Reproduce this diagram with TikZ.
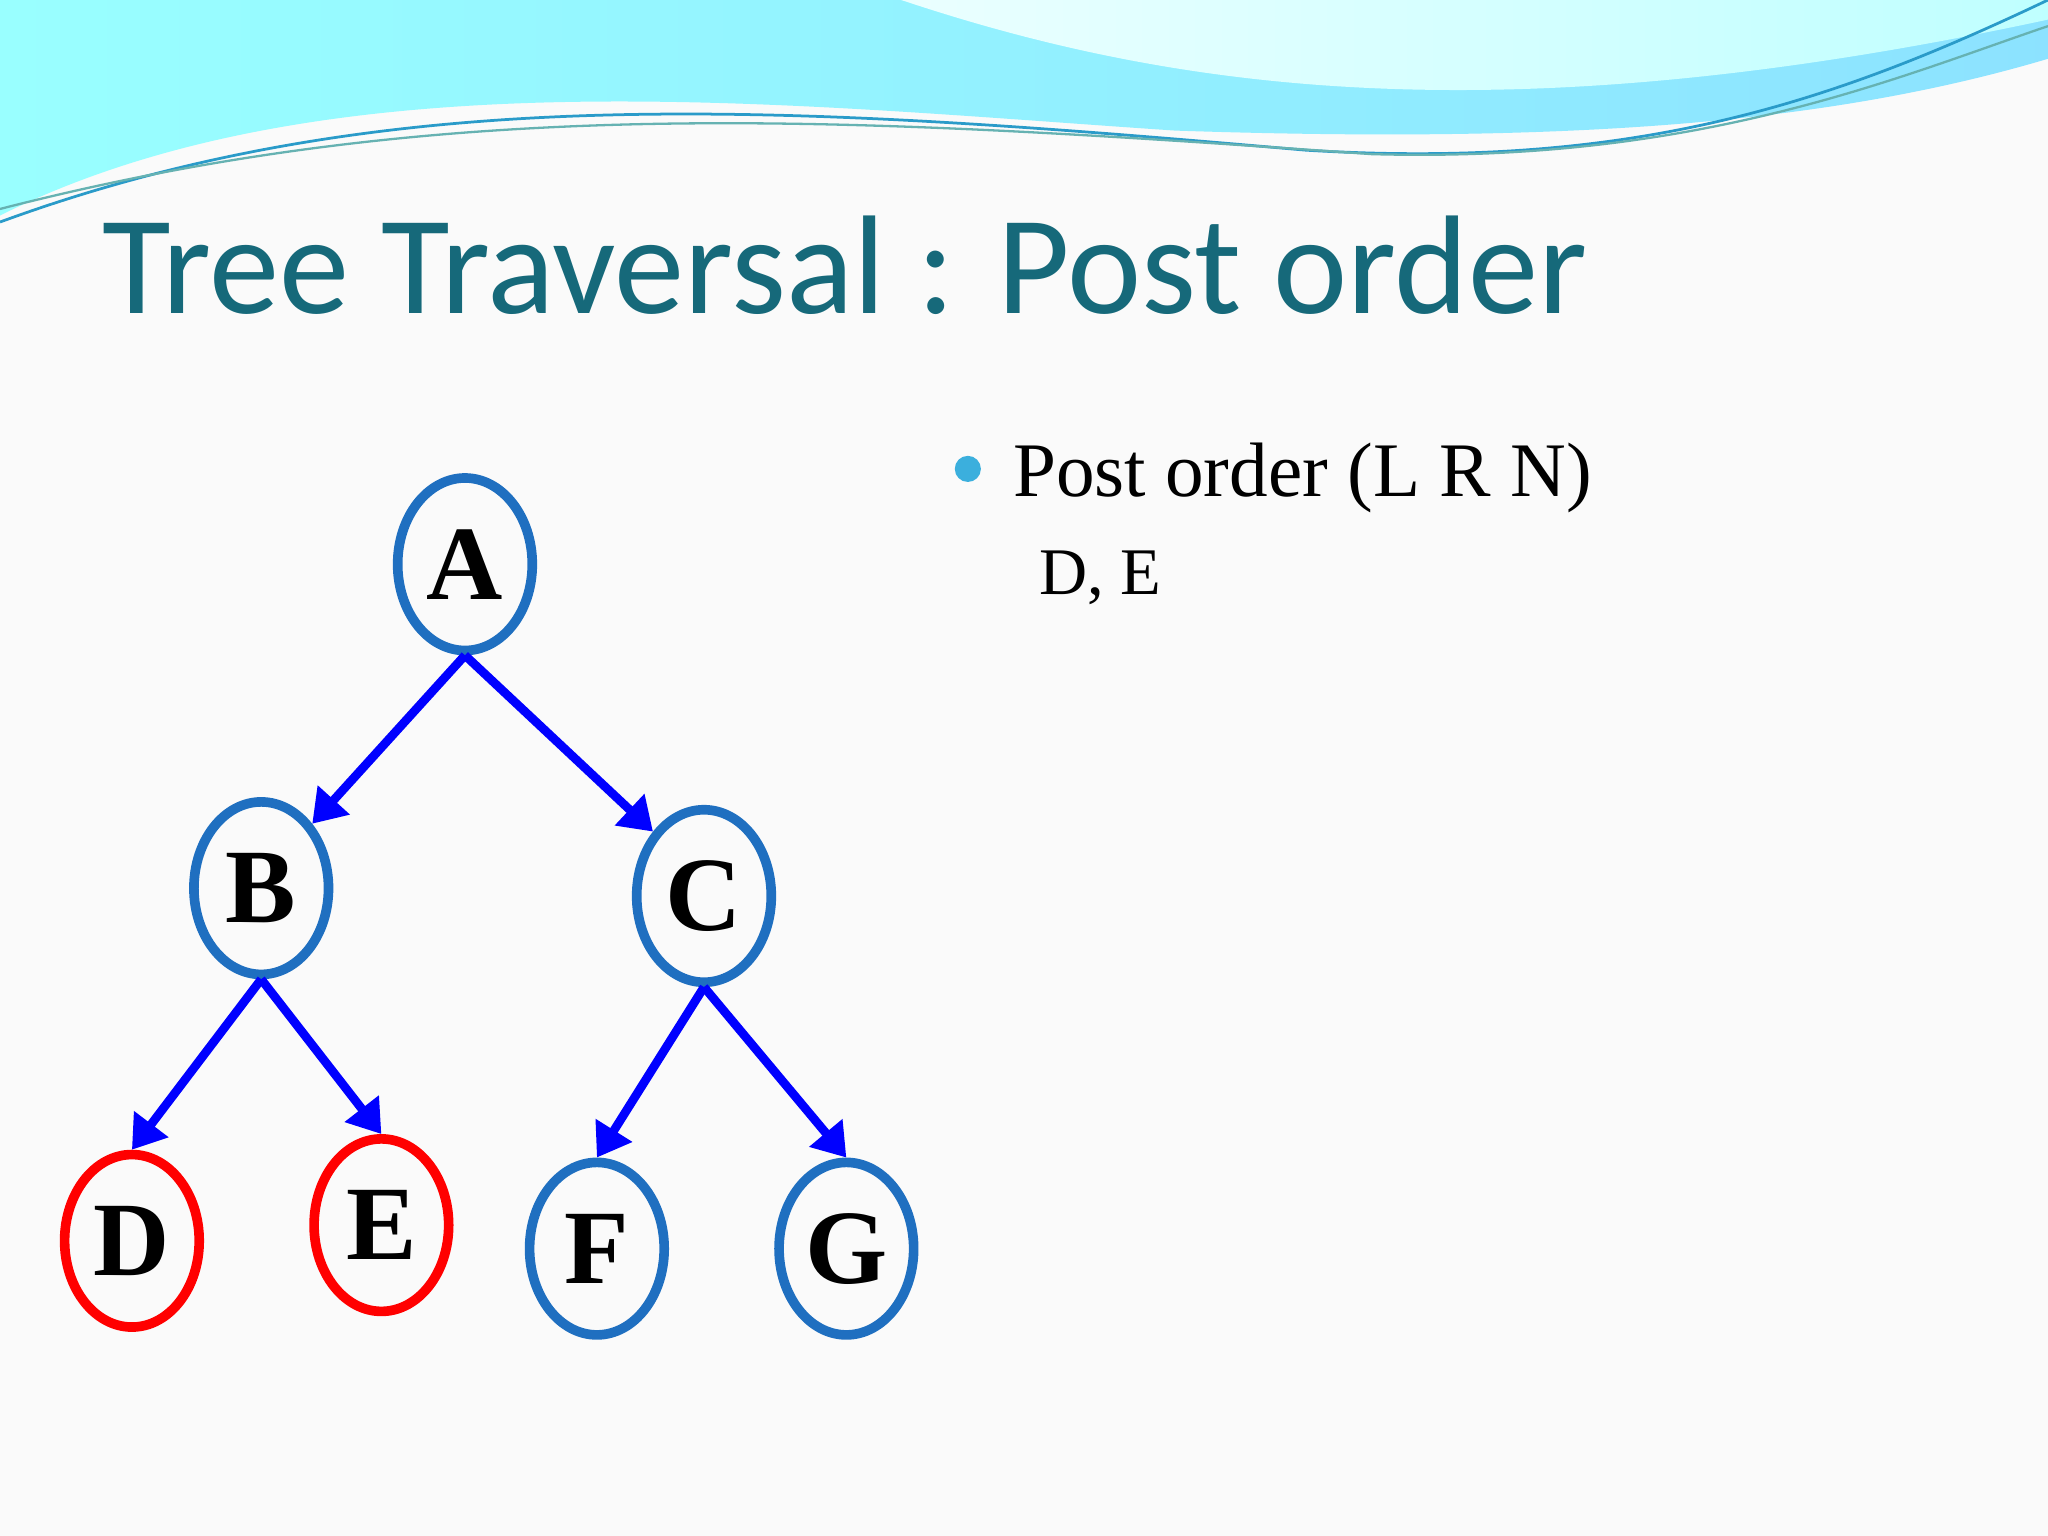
\documentclass[tikz,border=0pt]{standalone}
\usepackage{fontspec}
\setmainfont{Liberation Serif}
\newfontfamily\titlefont{Carlito}
\usetikzlibrary{shapes.geometric,arrows.meta}
\begin{document}
\begin{tikzpicture}[x=0.01cm,y=-0.01cm,
  tn/.style={draw=#1,line width=2.1pt,ellipse,minimum width=1.03cm,minimum height=1.32cm,inner sep=0pt,font=\fontsize{23}{23}\selectfont\bfseries},
  edge/.style={draw=blue,line width=1.9pt,-{Triangle[length=7pt,width=9pt]}}]
\definecolor{nb}{HTML}{1F6FC0}
\definecolor{tt}{HTML}{16697A}
\fill[white!96!gray] (0,0) rectangle (1568,1176);
\useasboundingbox (0,0) rectangle (1568,1176);
% top waves
\shade[left color=cyan!40!white,right color=blue!25!cyan!45!white] (0,0)--(1568,0)--(1568,45) .. controls (1400,95) and (1200,110) .. (900,100) .. controls (600,80) and (250,40) .. (0,165)--cycle;
\shade[left color=white!92!cyan,right color=cyan!25!white] (690,0) .. controls (900,70) and (1150,105) .. (1568,15) -- (1568,0) -- cycle;
\draw[cyan!60!teal,line width=0.6pt] (0,170) .. controls (300,60) and (600,80) .. (1000,115) .. controls (1250,130) and (1400,80) .. (1568,0);
\draw[teal!60,line width=0.5pt] (0,160) .. controls (350,70) and (650,90) .. (1050,118) .. controls (1300,125) and (1450,60) .. (1568,20);
% title
\node[anchor=base west,inner sep=0pt,text=tt,font=\titlefont\fontsize{30.6}{30.6}\selectfont] (title) at (78,240) {Tree Traversal : Post order};
% bullet
\fill[cyan!75!teal!85] (741,359) circle (10);
\node[anchor=base west,inner sep=0pt,font=\fontsize{16.8}{16.8}\selectfont] (b1) at (775,380) {Post order (L R N)};
\node[anchor=base west,inner sep=0pt,font=\fontsize{14.5}{14.5}\selectfont] (b2) at (795,455) {D, E};
% nodes
\node[tn=nb] (A) at (356,432) {A};
\node[tn=nb] (B) at (200,680) {B};
\node[tn=nb] (C) at (539,686) {C};
\node[tn=red] (D) at (101,950) {D};
\node[tn=red] (E) at (292,938) {E};
\node[tn=nb] (F) at (457,956) {F};
\node[tn=nb] (G) at (648,956) {G};
\draw[edge] (A.south) -- (B.north east);
\draw[edge] (A.south) -- (C.north west);
\draw[edge] (B.south) -- (D.north);
\draw[edge] (B.south) -- (E.north);
\draw[edge] (C.south) -- (F.north);
\draw[edge] (C.south) -- (G.north);
\end{tikzpicture}
\end{document}
